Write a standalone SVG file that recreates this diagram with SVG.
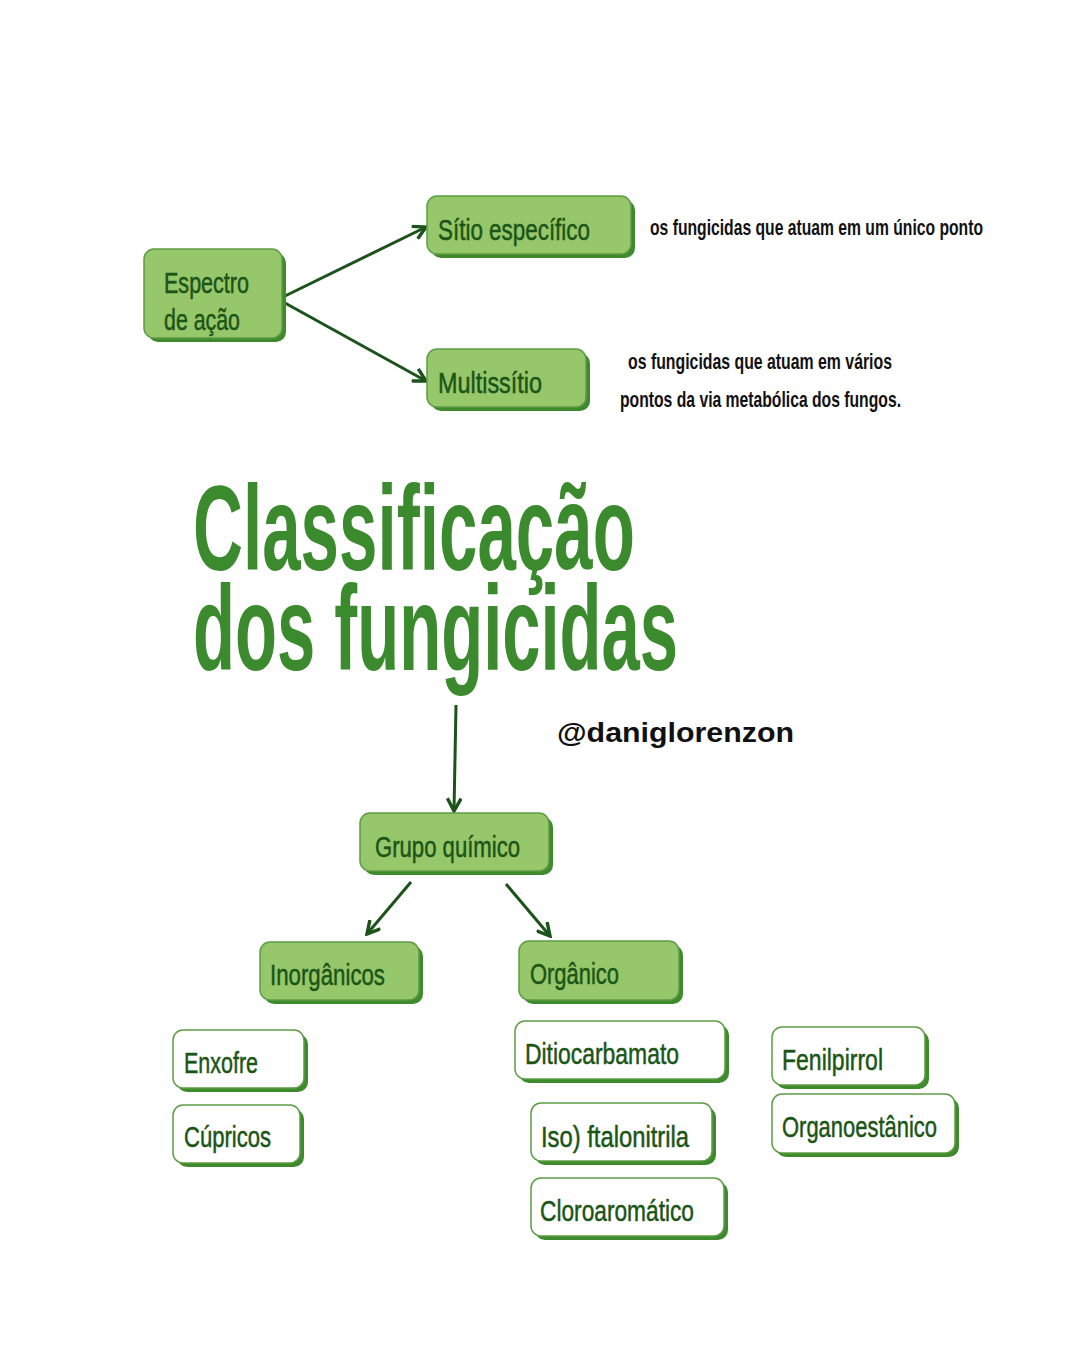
<svg xmlns="http://www.w3.org/2000/svg" width="1080" height="1350" viewBox="0 0 1080 1350">
<defs>
<style>
.sh{fill:#3e8a2d}
.g{fill:#97c76b;stroke:#5e9c45;stroke-width:1.5}
.w{fill:#ffffff;stroke:#5e9c45;stroke-width:1.5}
.t{font-family:"Liberation Sans",Arial,sans-serif;font-size:30px;fill:#1b5516;stroke:#1b5516;stroke-width:0.5}
.d{font-family:"Liberation Sans",Arial,sans-serif;font-size:22px;font-weight:bold;fill:#111111}
.title{font-family:"Liberation Sans",Arial,sans-serif;font-size:121px;font-weight:bold;fill:#3b8a2e}
.h{font-family:"Liberation Sans",Arial,sans-serif;font-size:27px;font-weight:bold;fill:#111111}
.c{stroke:#1c531a;stroke-width:3;fill:none}
</style>
<marker id="ah" markerUnits="userSpaceOnUse" markerWidth="16" markerHeight="16" viewBox="0 0 14 14" refX="12" refY="7" orient="auto">
<path d="M1,1 L12,7 L1,13" fill="none" stroke="#1c531a" stroke-width="3" stroke-linejoin="miter"/>
</marker>
</defs>
<rect width="1080" height="1350" fill="#ffffff"/>

<g id="connectors">
<line class="c" x1="285" y1="296" x2="426" y2="227" marker-end="url(#ah)"/>
<line class="c" x1="285" y1="303" x2="426" y2="381" marker-end="url(#ah)"/>
<line class="c" x1="456" y1="705" x2="454" y2="811" marker-end="url(#ah)"/>
<line class="c" x1="411" y1="882" x2="367" y2="934" marker-end="url(#ah)"/>
<line class="c" x1="506" y1="884" x2="550" y2="936" marker-end="url(#ah)"/>
</g>

<g id="title">
<text class="title" x="193" y="570" textLength="442" lengthAdjust="spacingAndGlyphs">Classificação</text>
<text class="title" x="193" y="670" textLength="485" lengthAdjust="spacingAndGlyphs">dos fungicidas</text>
</g>

<g id="handle">
<text class="h" x="557" y="742" textLength="237" lengthAdjust="spacingAndGlyphs">@daniglorenzon</text>
</g>

<g id="espectro">
<rect class="sh" x="148" y="253" width="138" height="89" rx="10"/>
<rect class="g" x="144" y="249" width="138" height="89" rx="10"/>
<text class="t" x="164" y="293" textLength="85" lengthAdjust="spacingAndGlyphs">Espectro</text>
<text class="t" x="164" y="330" textLength="76" lengthAdjust="spacingAndGlyphs">de ação</text>
</g>

<g id="sitio">
<rect class="sh" x="431" y="200" width="204" height="58" rx="10"/>
<rect class="g" x="427" y="196" width="204" height="58" rx="10"/>
<text class="t" x="438" y="240" textLength="152" lengthAdjust="spacingAndGlyphs">Sítio específico</text>
</g>

<g id="multissitio">
<rect class="sh" x="431" y="353" width="159" height="58" rx="10"/>
<rect class="g" x="427" y="349" width="159" height="58" rx="10"/>
<text class="t" x="438" y="393" textLength="104" lengthAdjust="spacingAndGlyphs">Multissítio</text>
</g>

<g id="desc-sitio">
<text class="d" x="650" y="235" textLength="333" lengthAdjust="spacingAndGlyphs">os fungicidas que atuam em um único ponto</text>
</g>

<g id="desc-multi">
<text class="d" x="628" y="369" textLength="264" lengthAdjust="spacingAndGlyphs">os fungicidas que atuam em vários</text>
<text class="d" x="620" y="407" textLength="281" lengthAdjust="spacingAndGlyphs">pontos da via metabólica dos fungos.</text>
</g>

<g id="grupo">
<rect class="sh" x="364" y="817" width="189" height="58" rx="10"/>
<rect class="g" x="360" y="813" width="189" height="58" rx="10"/>
<text class="t" x="375" y="857" textLength="145" lengthAdjust="spacingAndGlyphs">Grupo químico</text>
</g>

<g id="inorganicos">
<rect class="sh" x="264" y="946" width="159" height="58" rx="10"/>
<rect class="g" x="260" y="942" width="159" height="58" rx="10"/>
<text class="t" x="270" y="985" textLength="115" lengthAdjust="spacingAndGlyphs">Inorgânicos</text>
</g>

<g id="organico">
<rect class="sh" x="523" y="945" width="160" height="59" rx="10"/>
<rect class="g" x="519" y="941" width="160" height="59" rx="10"/>
<text class="t" x="530" y="984" textLength="89" lengthAdjust="spacingAndGlyphs">Orgânico</text>
</g>

<g id="enxofre">
<rect class="sh" x="177" y="1034" width="131" height="58" rx="10"/>
<rect class="w" x="173" y="1030" width="131" height="58" rx="10"/>
<text class="t" x="184" y="1073" textLength="74" lengthAdjust="spacingAndGlyphs">Enxofre</text>
</g>

<g id="cupricos">
<rect class="sh" x="177" y="1109" width="127" height="58" rx="10"/>
<rect class="w" x="173" y="1105" width="127" height="58" rx="10"/>
<text class="t" x="184" y="1147" textLength="87" lengthAdjust="spacingAndGlyphs">Cúpricos</text>
</g>

<g id="ditiocarbamato">
<rect class="sh" x="519" y="1025" width="210" height="58" rx="10"/>
<rect class="w" x="515" y="1021" width="210" height="58" rx="10"/>
<text class="t" x="525" y="1064" textLength="154" lengthAdjust="spacingAndGlyphs">Ditiocarbamato</text>
</g>

<g id="ftalonitrila">
<rect class="sh" x="535" y="1107" width="181" height="58" rx="10"/>
<rect class="w" x="531" y="1103" width="181" height="58" rx="10"/>
<text class="t" x="541" y="1147" textLength="148" lengthAdjust="spacingAndGlyphs">Iso) ftalonitrila</text>
</g>

<g id="cloroaromatico">
<rect class="sh" x="535" y="1182" width="193" height="58" rx="10"/>
<rect class="w" x="531" y="1178" width="193" height="58" rx="10"/>
<text class="t" x="540" y="1221" textLength="154" lengthAdjust="spacingAndGlyphs">Cloroaromático</text>
</g>

<g id="fenilpirrol">
<rect class="sh" x="776" y="1031" width="153" height="58" rx="10"/>
<rect class="w" x="772" y="1027" width="153" height="58" rx="10"/>
<text class="t" x="782" y="1070" textLength="101" lengthAdjust="spacingAndGlyphs">Fenilpirrol</text>
</g>

<g id="organoestanico">
<rect class="sh" x="776" y="1098" width="183" height="59" rx="10"/>
<rect class="w" x="772" y="1094" width="183" height="59" rx="10"/>
<text class="t" x="782" y="1137" textLength="155" lengthAdjust="spacingAndGlyphs">Organoestânico</text>
</g>
</svg>
